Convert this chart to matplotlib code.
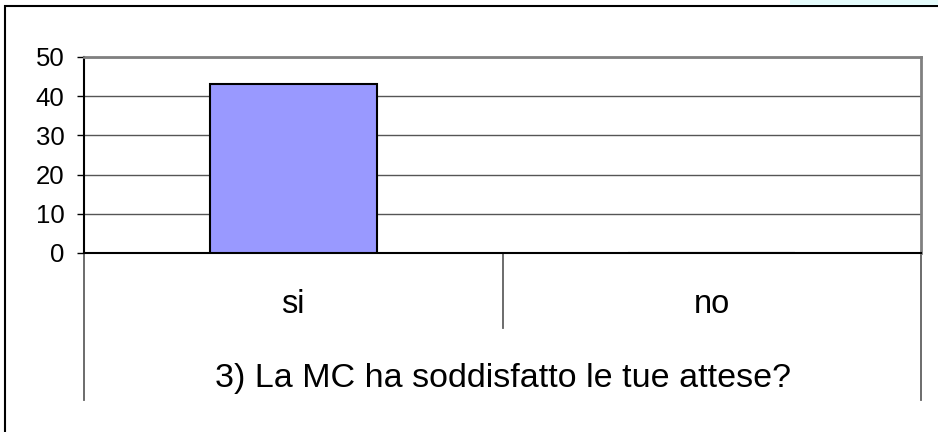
import matplotlib
matplotlib.use("Agg")
import matplotlib.pyplot as plt
from matplotlib.patches import Rectangle
import matplotlib.transforms as mtransforms

categories = ["si", "no"]
values = [43, 0]
yticks = [0, 10, 20, 30, 40, 50]
title = "3) La MC ha soddisfatto le tue attese?"

plt.rcParams['font.family'] = ['Liberation Sans', 'DejaVu Sans']

W, H = 938, 432
fig = plt.figure(figsize=(W / 100, H / 100), dpi=100)

# plot area in pixels
left, right, top, bottom = 84, 921, 57, 253
ax = fig.add_axes([left / W, 1 - bottom / H, (right - left) / W, (bottom - top) / H])

x = list(range(len(categories)))
ax.bar(x, values, width=0.4, color="#9999ff", edgecolor="black", linewidth=1.5, zorder=3)

ax.set_xlim(-0.5, len(categories) - 0.5)
ax.set_ylim(0, 50)
ax.set_yticks(yticks)
ax.set_yticklabels([str(t) for t in yticks], fontsize=18.5)
ax.tick_params(axis='y', direction='out', length=5, width=1, color='black', pad=9)
ax.yaxis.grid(True, color="#555555", linewidth=1, zorder=0)
ax.set_axisbelow(True)

ax.set_xticks(x)
ax.set_xticklabels(categories, fontsize=23.5)
ax.tick_params(axis='x', length=0, pad=26)

ax.set_xlabel(title, fontsize=24.5)
ax.xaxis.set_label_coords(0.5, -0.64)
ax.xaxis.label.set_va('center')

for s in ['top', 'right']:
    ax.spines[s].set_color('#808080')
    ax.spines[s].set_linewidth(2)
for s in ['left', 'bottom']:
    ax.spines[s].set_color('black')
    ax.spines[s].set_linewidth(1.5)

# category divider lines below the axis
trans = mtransforms.blended_transform_factory(ax.transData, ax.transAxes)
n = len(categories)
for b in [i - 0.5 for i in range(n + 1)]:
    depth = -0.75 if b in (-0.5, n - 0.5) else -0.383
    ax.plot([b, b], [0, depth], transform=trans, color='#606060', linewidth=1.3,
            clip_on=False, zorder=1)

# outer chart border (extends beyond bottom/right of the image)
fig.patches.append(Rectangle((5 / W, -0.1), 1.2, 1 - 6 / H + 0.1, transform=fig.transFigure,
                             fill=False, edgecolor='black', linewidth=1.5))
fig.patches.append(Rectangle((790 / W, 1 - 5 / H), (W - 790) / W, 5 / H, transform=fig.transFigure,
                             facecolor='#e4fbfb', edgecolor='none'))

fig.savefig("out.png", dpi=100)
